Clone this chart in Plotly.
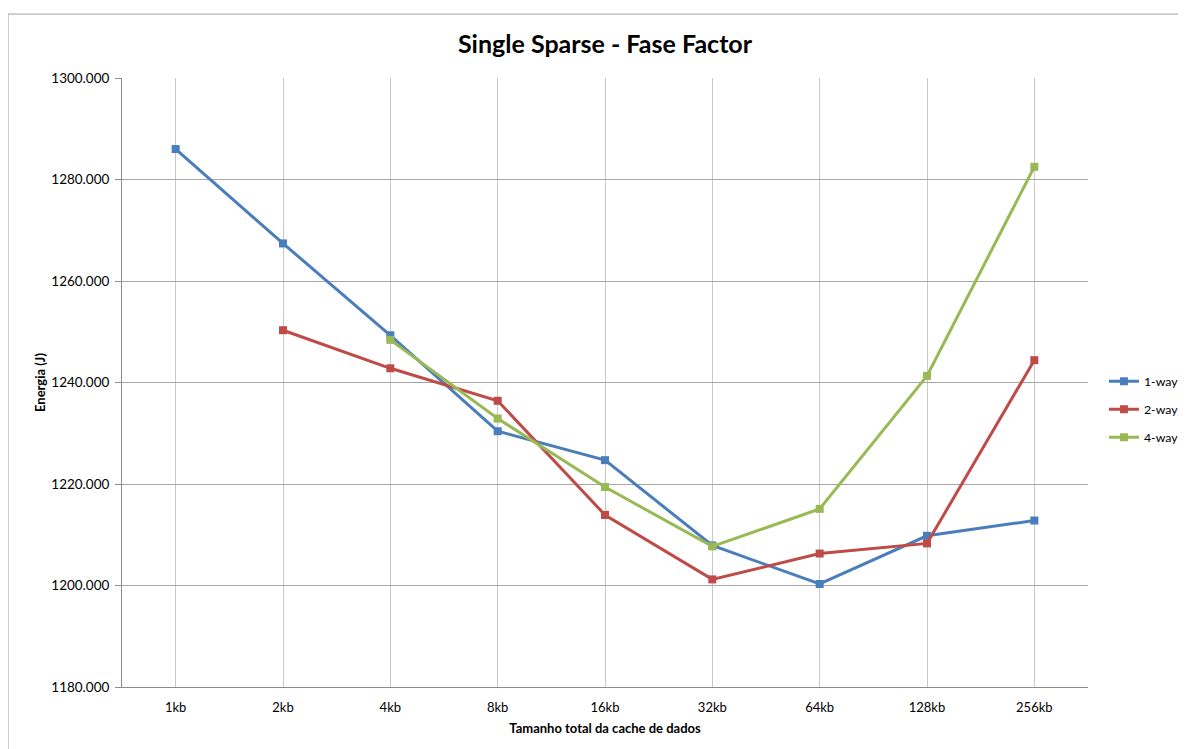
import plotly.graph_objects as go

categories = ["1kb", "2kb", "4kb", "8kb", "16kb", "32kb", "64kb", "128kb", "256kb"]
way1 = [1286.0, 1267.4, 1249.3, 1230.4, 1224.7, 1207.9, 1200.3, 1209.8, 1212.8]
way2 = [None, 1250.3, 1242.8, 1236.4, 1213.9, 1201.2, 1206.3, 1208.3, 1244.4]
way4 = [None, None, 1248.4, 1232.9, 1219.4, 1207.7, 1215.1, 1241.3, 1282.5]
series_names = ["1-way", "2-way", "4-way"]
colors = ["#4A7EBB", "#BE4B48", "#98B954"]

FONT = "Lato, 'Open Sans', sans-serif"
OFF = 8  # page body margin in the browser

fig = go.Figure()
for name, vals, c in zip(series_names, [way1, way2, way4], colors):
    fig.add_trace(go.Scatter(
        x=categories, y=vals, name=name, mode="lines+markers",
        line=dict(color=c, width=3),
        marker=dict(symbol="square", size=8, color=c),
        connectgaps=False, legendgroup=name,
    ))

fig.update_layout(
    width=1186 - OFF, height=749 - OFF,
    margin=dict(l=122 - OFF, r=98, t=78 - OFF, b=62, autoexpand=False),
    paper_bgcolor="white", plot_bgcolor="white",
    font=dict(family=FONT, size=13, color="#000000"),
    title=dict(text="<b>Single Sparse - Fase Factor</b>", x=0.5, xref="paper",
               y=1 - (44 - OFF) / (749 - OFF), yref="container", yanchor="middle",
               font=dict(family=FONT, size=25, color="#000000")),
    showlegend=True,
    legend=dict(x=1.0165, xanchor="left", y=0.456, yanchor="middle",
                font=dict(family=FONT, size=12.3), tracegroupgap=9,
                bgcolor="rgba(0,0,0,0)", itemwidth=30),
    xaxis=dict(
        type="category", categoryorder="array", categoryarray=categories,
        range=[-0.5, 8.5],
        showgrid=True, gridcolor="#c8c8c8", gridwidth=1,
        showline=True, linecolor="#8c8c8c", linewidth=1,
        ticks="", tickfont=dict(size=13), ticklabelstandoff=8,
        title=dict(text="<b>Tamanho total da cache de dados</b>", font=dict(size=13), standoff=10),
        zeroline=False,
    ),
    yaxis=dict(
        range=[1180, 1300], dtick=20, tick0=1180, tickformat=".3f",
        showgrid=True, gridcolor="#a6a6a6", gridwidth=1,
        showline=True, linecolor="#8c8c8c", linewidth=1,
        ticks="outside", ticklen=6, tickcolor="#8c8c8c",
        tickfont=dict(size=13.5), ticklabelstandoff=3,
        title=dict(text="<b>Energia (J)</b>", font=dict(size=13), standoff=2),
        zeroline=False,
    ),
    shapes=[dict(type="rect", xref="paper", yref="paper",
                 x0=-0.118, x1=1.2, y0=-0.3, y1=1.105,
                 line=dict(color="#a0a0a0", width=1), fillcolor="rgba(0,0,0,0)",
                 layer="below")],
)

fig.write_html("out.html")
